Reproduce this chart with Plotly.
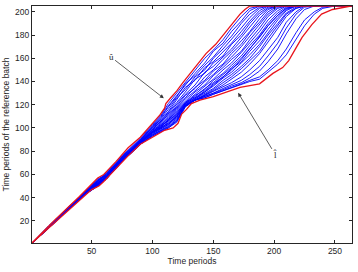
import plotly.graph_objects as go

# Knot positions (time periods) for the blue warping paths
knot_x = [1, 15, 30, 45, 55, 62, 75, 90, 100, 107, 113, 120, 127, 135, 143, 150, 158, 165, 173, 180,
          188, 195, 203, 210, 218, 225, 233, 240, 250, 264]

blue_paths = [
    [1, 16, 31, 45, 55, 61, 76, 91, 103, 111, 121, 130, 140, 150, 160, 167, 176, 186, 196, 203, 205, 205, 205, 205, 205, 205, 205, 205, 205, 205],
    [1, 15, 30, 45, 56, 60, 75, 90, 102, 110, 119, 128, 136, 147, 156, 166, 173, 183, 192, 201, 205, 205, 205, 205, 205, 205, 205, 205, 205, 205],
    [1, 15, 31, 44, 54, 60, 75, 90, 101, 109, 118, 127, 138, 145, 154, 161, 171, 179, 190, 198, 204, 205, 205, 205, 205, 205, 205, 205, 205, 205],
    [1, 16, 30, 45, 55, 61, 74, 89, 100, 108, 116, 126, 133, 144, 150, 160, 168, 176, 186, 195, 203, 205, 205, 205, 205, 205, 205, 205, 205, 205],
    [1, 15, 30, 44, 53, 59, 74, 89, 101, 107, 114, 124, 135, 141, 152, 157, 166, 173, 183, 192, 201, 205, 205, 205, 205, 205, 205, 205, 205, 205],
    [1, 15, 30, 45, 54, 60, 75, 90, 100, 106, 113, 122, 131, 142, 147, 156, 162, 172, 180, 190, 199, 204, 205, 205, 205, 205, 205, 205, 205, 205],
    [1, 15, 31, 45, 55, 59, 74, 89, 99, 105, 112, 121, 129, 137, 148, 153, 161, 168, 178, 187, 197, 203, 205, 205, 205, 205, 205, 205, 205, 205],
    [1, 14, 30, 44, 53, 58, 73, 88, 99, 106, 111, 119, 128, 134, 144, 150, 159, 166, 175, 183, 194, 202, 205, 205, 205, 205, 205, 205, 205, 205],
    [1, 15, 30, 44, 54, 59, 74, 88, 98, 104, 110, 118, 126, 135, 141, 149, 155, 164, 172, 182, 191, 200, 205, 205, 205, 205, 205, 205, 205, 205],
    [1, 15, 29, 44, 52, 58, 73, 88, 98, 103, 109, 117, 125, 132, 140, 146, 154, 161, 170, 179, 189, 198, 204, 205, 205, 205, 205, 205, 205, 205],
    [1, 15, 30, 44, 53, 58, 73, 88, 97, 103, 108, 116, 123, 131, 137, 145, 152, 159, 166, 176, 186, 196, 203, 205, 205, 205, 205, 205, 205, 205],
    [1, 15, 30, 44, 52, 57, 72, 87, 97, 102, 107, 115, 122, 129, 136, 142, 150, 156, 165, 173, 183, 193, 201, 205, 205, 205, 205, 205, 205, 205],
    [1, 14, 29, 43, 51, 57, 72, 87, 96, 101, 107, 114, 121, 128, 133, 141, 147, 154, 162, 171, 180, 190, 199, 204, 205, 205, 205, 205, 205, 205],
    [1, 15, 30, 44, 52, 58, 73, 88, 97, 102, 106, 113, 122, 127, 134, 139, 146, 152, 160, 168, 178, 188, 197, 203, 205, 205, 205, 205, 205, 205],
    [1, 15, 30, 44, 53, 58, 73, 88, 97, 101, 106, 112, 121, 126, 132, 138, 144, 151, 157, 166, 175, 185, 195, 202, 205, 205, 205, 205, 205, 205],
    [1, 14, 29, 43, 51, 57, 72, 87, 96, 100, 105, 112, 120, 125, 131, 136, 143, 148, 156, 163, 172, 182, 193, 201, 205, 205, 205, 205, 205, 205],
    [1, 15, 30, 44, 52, 58, 73, 88, 96, 100, 104, 111, 120, 125, 130, 134, 141, 146, 153, 160, 170, 180, 190, 199, 204, 205, 205, 205, 205, 205],
    [1, 15, 29, 43, 51, 57, 72, 87, 95, 99, 103, 110, 119, 124, 129, 133, 139, 144, 151, 158, 166, 177, 188, 198, 203, 205, 205, 205, 205, 205],
    [1, 14, 29, 43, 51, 56, 71, 86, 95, 99, 103, 109, 120, 124, 128, 132, 137, 142, 148, 155, 164, 174, 186, 196, 203, 205, 205, 205, 205, 205],
    [1, 15, 30, 44, 52, 57, 72, 87, 96, 100, 104, 110, 121, 126, 131, 137, 144, 150, 159, 168, 178, 188, 197, 203, 205, 205, 205, 205, 205, 205],
    [1, 14, 29, 43, 51, 56, 71, 86, 94, 98, 102, 108, 119, 124, 128, 131, 135, 139, 144, 150, 158, 167, 178, 191, 200, 205, 205, 205, 205, 205],
    [1, 15, 29, 43, 51, 57, 71, 86, 94, 98, 101, 107, 119, 124, 127, 130, 134, 137, 141, 146, 153, 162, 173, 186, 198, 204, 205, 205, 205, 205],
    [1, 14, 29, 43, 50, 56, 71, 86, 94, 98, 101, 106, 119, 124, 127, 130, 133, 136, 139, 143, 149, 157, 168, 181, 194, 202, 205, 205, 205, 205],
    [1, 14, 29, 43, 50, 56, 71, 86, 93, 97, 100, 106, 119, 124, 126, 129, 132, 135, 138, 141, 144, 150, 158, 168, 182, 193, 200, 204, 205, 205],
    [1, 15, 29, 43, 50, 56, 71, 86, 93, 97, 100, 105, 118, 124, 126, 129, 132, 134, 137, 140, 142, 148, 155, 163, 176, 188, 198, 203, 205, 205],
]

# Upper envelope (u-hat)
upper_x = [1, 20, 40, 50, 55, 60, 70, 80, 90, 100, 106, 110, 111, 115, 120, 125, 131, 137, 144, 152, 160, 166, 172, 176, 180, 264]
upper_y = [1, 21, 41, 52, 57, 60, 71, 83, 92, 104, 111, 117, 121, 126, 132, 139, 147, 155, 164, 172, 182, 190, 198, 202, 205, 205]

# Lower envelope (l-hat)
lower_x = [1, 20, 40, 50, 56, 60, 70, 80, 90, 100, 110, 117, 121, 124, 128, 132, 139, 150, 163, 172, 188, 199, 207, 212, 218, 223, 231, 239, 248, 258, 263]
lower_y = [1, 19, 38, 47, 50, 54, 65, 76, 86, 92, 98, 100, 104, 112, 116, 121, 124, 127, 132, 135, 138, 147, 152, 158, 169, 178, 189, 198, 202, 204, 205]

x_ticks = [50, 100, 150, 200, 250]
y_ticks = [20, 40, 60, 80, 100, 120, 140, 160, 180, 200]

fig = go.Figure()
for path in blue_paths:
    fig.add_trace(go.Scatter(x=knot_x, y=path, mode="lines",
                             line=dict(color="#0000ff", width=0.9), showlegend=False, hoverinfo="skip"))
fig.add_trace(go.Scatter(x=upper_x, y=upper_y, mode="lines",
                         line=dict(color="#e8141c", width=1.3), showlegend=False))
fig.add_trace(go.Scatter(x=lower_x, y=lower_y, mode="lines",
                         line=dict(color="#e8141c", width=1.3), showlegend=False))

font = dict(family="Liberation Sans, Arial, sans-serif", size=8.5, color="#262626")
axis_common = dict(showline=True, linecolor="#262626", linewidth=1, mirror="ticks",
                   ticks="inside", ticklen=3, tickcolor="#262626", showgrid=False,
                   zeroline=False, tickfont=font)

fig.update_xaxes(range=[1, 264], tickvals=x_ticks, title=dict(text="Time periods", font=font, standoff=2),
                 **axis_common)
fig.update_yaxes(range=[1, 205], tickvals=y_ticks,
                 title=dict(text="Time periods of the reference batch", font=font, standoff=4),
                 **axis_common)

arrow_font = dict(family="Liberation Serif, Times New Roman, serif", size=9, color="#262626")
fig.add_annotation(x=110, y=125, ax=66, ay=161, axref="x", ayref="y", xref="x", yref="y",
                   text="û", showarrow=True, arrowhead=2, arrowsize=1, arrowwidth=0.8,
                   arrowcolor="#333333", font=arrow_font, standoff=1)
fig.add_annotation(x=170, y=131, ax=201, ay=77, axref="x", ayref="y", xref="x", yref="y",
                   text="l̂", showarrow=True, arrowhead=2, arrowsize=1, arrowwidth=0.8,
                   arrowcolor="#333333", font=arrow_font, standoff=1)

fig.update_layout(width=358, height=272, margin=dict(l=31, r=5, t=5, b=29),
                  paper_bgcolor="white", plot_bgcolor="white")
fig.write_html("out.html")
